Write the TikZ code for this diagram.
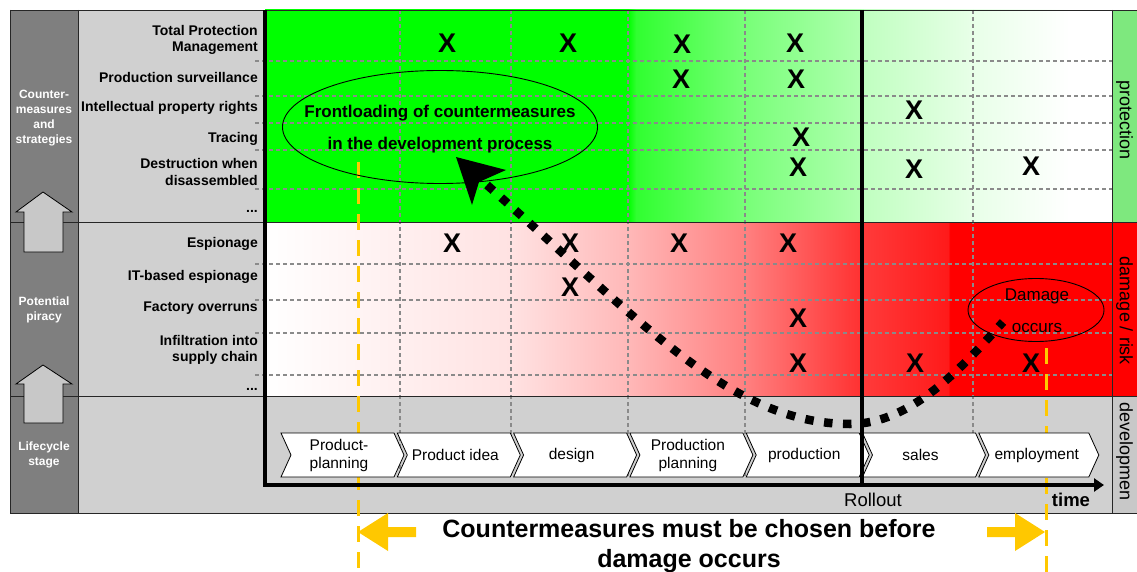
\documentclass[tikz,border=0pt]{standalone}
\usepackage{fontspec}
\setmainfont{Liberation Sans}
\usetikzlibrary{arrows.meta,shapes.geometric}
\definecolor{darkcol}{HTML}{7F7F7F}
\definecolor{lightcol}{HTML}{D0D0D0}
\definecolor{gridgray}{HTML}{8A8A8A}
\definecolor{gold}{HTML}{FFC800}
\definecolor{protgreen}{HTML}{7EE87E}
\definecolor{devgray}{HTML}{C8C8C8}
\definecolor{arrowgray}{HTML}{C8C8C8}
\definecolor{gA}{HTML}{00FF00}
\definecolor{gB}{HTML}{30FF30}
\definecolor{gC}{HTML}{78FF78}
\definecolor{gD}{HTML}{B0FFB0}
\definecolor{gE}{HTML}{C0FFC0}
\definecolor{gF}{HTML}{E8FFE8}
\definecolor{wW}{HTML}{FFFFFF}
\definecolor{rA}{HTML}{FFE2E2}
\definecolor{rB}{HTML}{FFB8B8}
\definecolor{rC}{HTML}{FF8080}
\definecolor{rD}{HTML}{FF3232}
\definecolor{rE}{HTML}{FF3A3A}
\definecolor{rF}{HTML}{FF1A1A}
\definecolor{rG}{HTML}{FF0000}
\pgfdeclarehorizontalshading{protshade}{100bp}{color(0bp)=(gA); color(46.43bp)=(gA); color(46.9bp)=(gB); color(53.33bp)=(gC); color(60.12bp)=(gD); color(60.36bp)=(gE); color(66.79bp)=(gF); color(72.52bp)=(wW); color(100bp)=(wW)}
\pgfdeclarehorizontalshading{riskshade}{100bp}{color(0bp)=(wW); color(25bp)=(wW); color(39.52bp)=(rA); color(46.43bp)=(rB); color(53.33bp)=(rC); color(60.12bp)=(rD); color(60.36bp)=(rE); color(65.32bp)=(rF); color(65.44bp)=(rG); color(100bp)=(rG)}
\begin{document}
\begin{tikzpicture}[x=1pt,y=-1pt,
  griddash/.style={gridgray, line width=1.1pt, dash pattern=on 4pt off 3pt},
  frameline/.style={black!85, line width=0.9pt},
  golddash/.style={gold, line width=3pt, dash pattern=on 16pt off 10pt},
  chevbox/.style={draw=black, fill=white, line width=0.8pt},
  chevtext/.style={font=\fontsize{15.5}{18}\selectfont, align=center, inner sep=0pt},
  rowlabel/.style={font=\bfseries\fontsize{14}{16.5}\selectfont, align=right, anchor=east, inner sep=0pt},
  sidelabel/.style={font=\bfseries\fontsize{12}{15}\selectfont, align=center, text=white, inner sep=0pt},
  xmark/.style={font=\bfseries\fontsize{27}{27}\selectfont, inner sep=0pt},
  vlabel/.style={font=\fontsize{18}{18}\selectfont, rotate=-90, inner sep=0pt},
  uparrow/.style={fill=arrowgray, draw=black, line width=0.8pt},
  goldarrow/.style={fill=gold},
  dotcurve/.style={line width=8.5pt, dash pattern=on 8.5pt off 10.5pt},
  bubble/.style={ellipse, draw=black, line width=0.9pt, inner sep=0pt}
]
\useasboundingbox (0,0) rectangle (1137,572);

% ---------- backgrounds ----------
\fill[darkcol] (10,10) rectangle (78,513);
\fill[lightcol] (78,10) rectangle (265,513);
\fill[lightcol] (265,396) rectangle (1112,513);
\shade[shading=protshade] (265,10) rectangle (1112,222);
\shade[shading=riskshade] (265,222) rectangle (1112,396);
% right column
\fill[protgreen] (1112,10) rectangle (1137,222);
\fill[red] (1112,222) rectangle (1137,396);
\fill[devgray] (1112,396) rectangle (1137,513);

% ---------- grid ----------
\foreach \y in {61,96,123,150,189,264,300,333,375}
  \draw[griddash] (255,\y) -- (1112,\y);
\foreach \x in {400,511,628,745,973}
  \draw[griddash] (\x,10) -- (\x,478);

% ---------- frame ----------
\draw[frameline] (10,10) -- (1137,10);
\draw[frameline] (10,513) -- (1137,513);
\draw[frameline] (10,10) -- (10,513);
\draw[frameline] (78,10) -- (78,513);
\draw[frameline] (1112,10) -- (1112,513);
\draw[frameline] (10,222) -- (1137,222);
\draw[frameline] (10,396) -- (1137,396);

% ---------- left column arrows ----------
\filldraw[uparrow] (43,192) -- (72,212) -- (63,212) -- (63,252) -- (24,252) -- (24,212) -- (16,212) -- cycle;
\filldraw[uparrow] (43,365) -- (72,384) -- (63,384) -- (63,423) -- (24,423) -- (24,384) -- (16,384) -- cycle;

% ---------- yellow dashed lines ----------
\coordinate (g1top) at (358,162);
\coordinate (g1bot) at (358,572);
\coordinate (g2top) at (1046,348);
\coordinate (g2bot) at (1046,572);
\draw[golddash] (g1top) -- (g1bot);
\draw[golddash] (g2top) -- (g2bot);

% ---------- chevrons ----------
\foreach \L/\W/\t [count=\n] in {281/113/{Product-\\planning}, 397.3/113/{Product idea}, 513.6/113/{design}, 629.9/113/{Production\\planning}, 746.2/113/{production}, 862.5/113/{sales}, 978.8/110/{employment}} {
  \draw[chevbox] (\L,433) -- ++(\W,0) -- ++(10,22) -- ++(-10,22) -- ++(-\W,0) -- ++(10,-22) -- cycle;
  \node[chevtext] (c\n) at ({\L+58},455) {\t};
}

% ---------- axes ----------
\coordinate (ytop) at (265,10);
\coordinate (xend) at (1104,485);
\draw[line width=3.5pt, -{Triangle[length=10pt,width=13pt]}] (ytop) |- (xend);
\coordinate (rtop) at (862,10);
\coordinate (rbot) at (862,485);
\draw[line width=4pt] (rtop) -- (rbot);
\node[font=\fontsize{18.5}{20}\selectfont, inner sep=0pt] (rollout) at (873,500) {Rollout};
\node[font=\bfseries\fontsize{18.5}{20}\selectfont, inner sep=0pt] (time) at (1071,500) {time};

% ---------- side labels ----------
\node[sidelabel] (cm) at (44,118) {Counter-\\measures\\and\\strategies};
\node[sidelabel] (pp) at (44,310) {Potential\\piracy};
\node[sidelabel] (ls) at (44,455) {Lifecycle\\stage};

% ---------- row labels ----------
\node[rowlabel] (r1) at (258,40) {Total Protection\\Management};
\node[rowlabel] (r2) at (258,77) {Production surveillance};
\node[rowlabel] (r3) at (258,108) {Intellectual property rights};
\node[rowlabel] (r4) at (258,139) {Tracing};
\node[rowlabel] (r5) at (258,172) {Destruction when\\disassembled};
\node[rowlabel] (r6) at (258,211) {...};
\node[rowlabel] (r7) at (258,244) {Espionage};
\node[rowlabel] (r8) at (258,277) {IT-based espionage};
\node[rowlabel] (r9) at (258,308) {Factory overruns};
\node[rowlabel] (r10) at (258,350) {Infiltration into\\supply chain};
\node[rowlabel] (r11) at (258,389) {...};

% ---------- right column labels ----------
\node[vlabel] (vp) at (1124.5,120) {protection};
\node[vlabel] (vd) at (1124.5,311) {damage / risk};
\node[vlabel, anchor=west] (vdev) at (1124.5,402) {developmen};

% ---------- X marks ----------
\foreach \x/\y [count=\k] in {447/43, 568/43, 682/44, 795/43, 681/79, 796/79, 914/110, 801/137, 798/167, 914/169, 1031/166,
  452/243, 570/243, 679/243, 788/243, 570/287, 798/318, 798/363, 915/363, 1031/363}
  \node[xmark] (x\k) at (\x,\y) {X};

% ---------- ellipses ----------
\node[bubble, minimum width=315pt, minimum height=113pt] (front) at (440,127) {};
\node[font=\bfseries\fontsize{17}{32}\selectfont, align=center, inner sep=0pt] (fronttext) at (440,129) {Frontloading of countermeasures\\in the development process};
\node[bubble, minimum width=136pt, minimum height=63pt] (dmg) at (1036,310) {};
\node[font=\fontsize{17}{32}\selectfont, align=center, inner sep=0pt] (dmgtext) at (1037,311) {Damage\\occurs};

% ---------- dotted curve ----------
\coordinate (cs) at (487,185);
\coordinate (cm) at (850,424);
\coordinate (ce) at (1003,322);
\draw[dotcurve] (cs) .. controls (640,320) and (730,424) .. (cm) .. controls (910,424) and (960,370) .. (ce);
\fill (456,157) -- (506,170) -- (479,182) -- (472,205) -- cycle;

% ---------- bottom ----------
\fill[goldarrow] (358,532) -- (388,513) -- (388,527) -- (416,527) -- (416,537) -- (388,537) -- (388,551) -- cycle;
\fill[goldarrow] (1045,532) -- (1015,513) -- (1015,527) -- (987,527) -- (987,537) -- (1015,537) -- (1015,551) -- cycle;
\node[font=\bfseries\fontsize{25}{30}\selectfont, align=center, inner sep=0pt] (bottomtext) at (689,546) {Countermeasures must be chosen before\\damage occurs};
\end{tikzpicture}
\end{document}
